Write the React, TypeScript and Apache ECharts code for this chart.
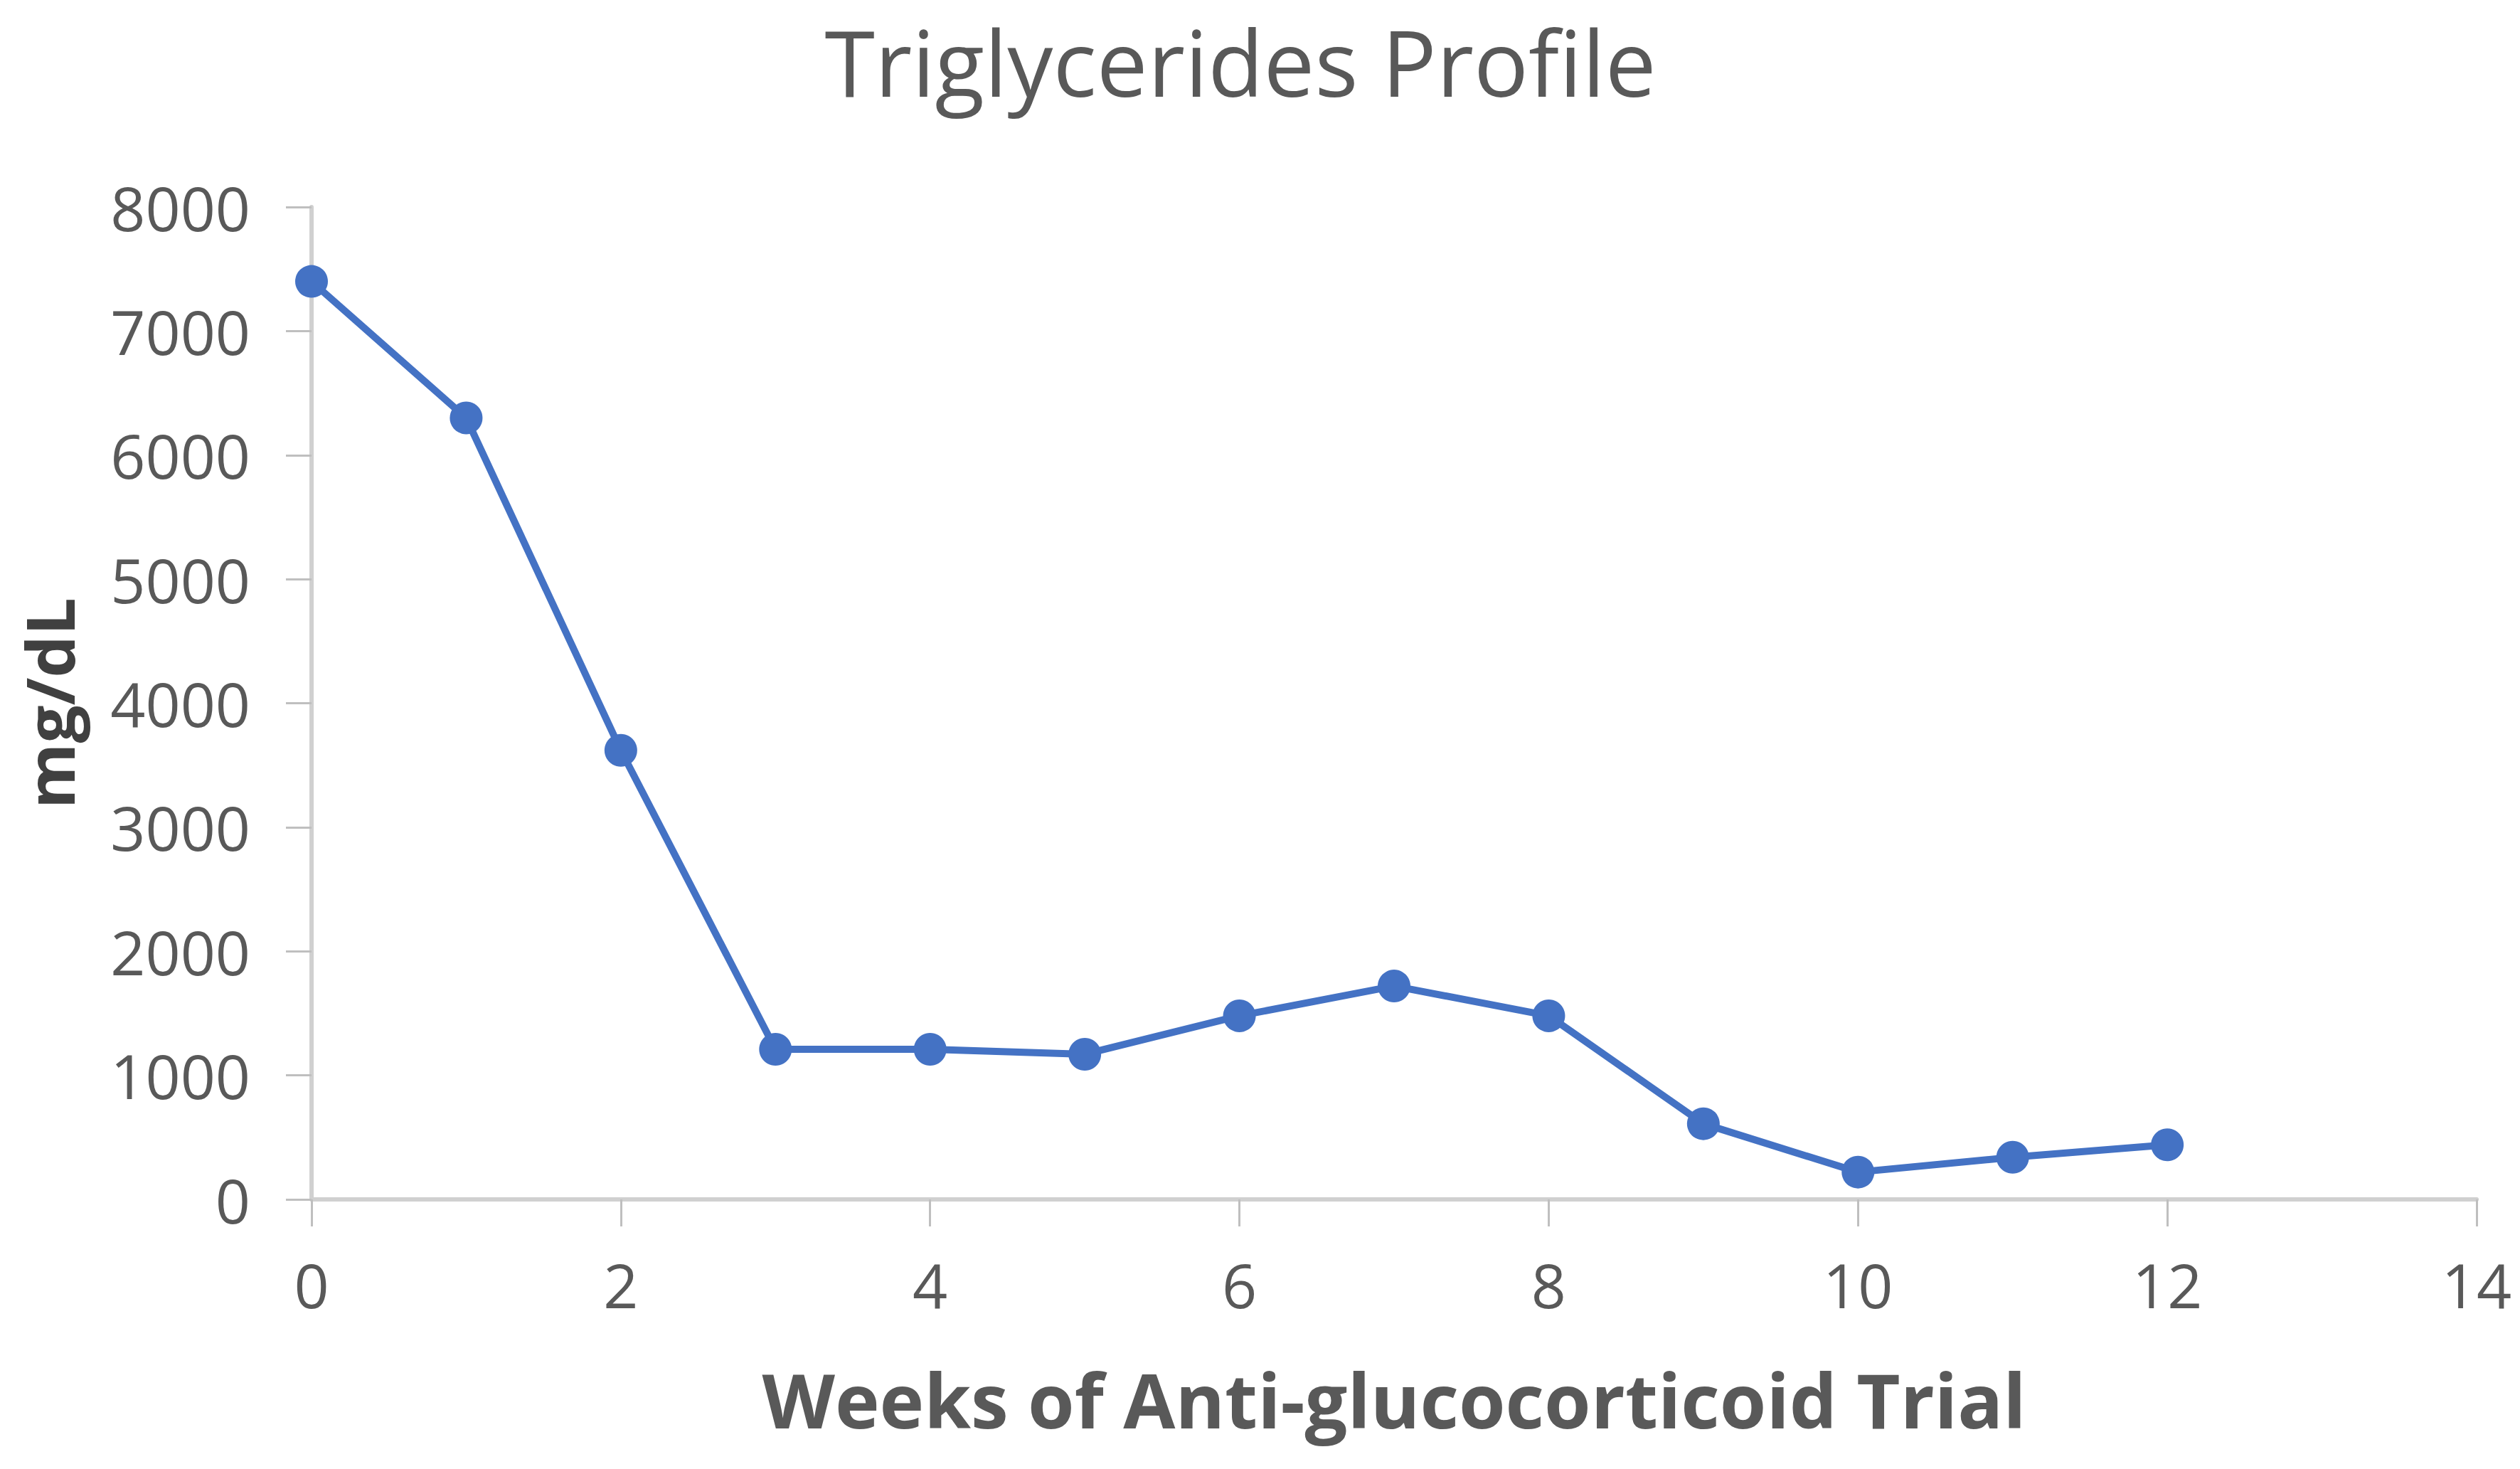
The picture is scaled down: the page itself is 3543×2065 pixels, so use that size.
import React, { useEffect, useRef } from "react";
import * as echarts from "echarts";

const weeks: number[] = [0, 1, 2, 3, 4, 5, 6, 7, 8, 9, 10, 11, 12];
const triglycerides: number[] = [7400, 6300, 3620, 1210, 1210, 1170, 1480, 1720, 1480, 610, 220, 340, 440];
const chartTitle = "Triglycerides Profile";
const xAxisTitle = "Weeks of Anti-glucocorticoid Trial";
const yAxisTitle = "mg/dL";

const FONT = "'Open Sans', 'Noto Sans', sans-serif";

export default function App() {
  const ref = useRef<HTMLDivElement>(null);
  useEffect(() => {
    if (!ref.current) return;
    const chart = echarts.init(ref.current, undefined, { renderer: "svg" });
    chart.setOption({
      animation: false,
      backgroundColor: "#ffffff",
      title: {
        text: chartTitle,
        left: 1744,
        textAlign: "center",
        top: 22,
        padding: 0,
        textStyle: { fontFamily: FONT, fontSize: 128, lineHeight: 128, fontWeight: "normal", color: "#595959" },
      },
      grid: {
        left: 438,
        right: 61,
        top: 291,
        bottom: 379,
        containLabel: false,
        outerBoundsMode: "none",
      },
      xAxis: {
        type: "value",
        min: 0,
        max: 14,
        interval: 2,
        name: xAxisTitle,
        nameLocation: "middle",
        nameGap: 228,
        nameTextStyle: { fontFamily: FONT, fontSize: 106, fontWeight: "bold", color: "#595959" },
        axisLine: { show: true, lineStyle: { color: "#D0D0D0", width: 6 } },
        axisTick: { show: true, length: 38, lineStyle: { color: "#BFBFBF", width: 3 } },
        axisLabel: { fontFamily: FONT, fontSize: 86, color: "#595959", margin: 76 },
        splitLine: { show: false },
      },
      yAxis: {
        type: "value",
        min: 0,
        max: 8000,
        interval: 1000,
        name: yAxisTitle,
        nameLocation: "middle",
        nameGap: 322,
        nameTextStyle: { fontFamily: FONT, fontSize: 94, fontWeight: "bold", color: "#404040" },
        axisLine: { show: true, lineStyle: { color: "#D0D0D0", width: 6 } },
        axisTick: { show: true, length: 36, lineStyle: { color: "#BFBFBF", width: 3 } },
        axisLabel: {
          fontFamily: FONT,
          fontSize: 86,
          color: "#595959",
          margin: 86,
          formatter: (v: number) => String(v),
        },
        splitLine: { show: false },
      },
      series: [
        {
          type: "line",
          data: weeks.map((w, i) => [w, triglycerides[i]]),
          symbol: "circle",
          symbolSize: 46,
          lineStyle: { color: "#4472C4", width: 10 },
          itemStyle: { color: "#4472C4" },
          clip: false,
        },
      ],
    });
    return () => chart.dispose();
  }, []);
  return (
    <div
      ref={ref}
      style={{ position: "fixed", left: 0, top: 0, width: 3543, height: 2065 }}
    />
  );
}
